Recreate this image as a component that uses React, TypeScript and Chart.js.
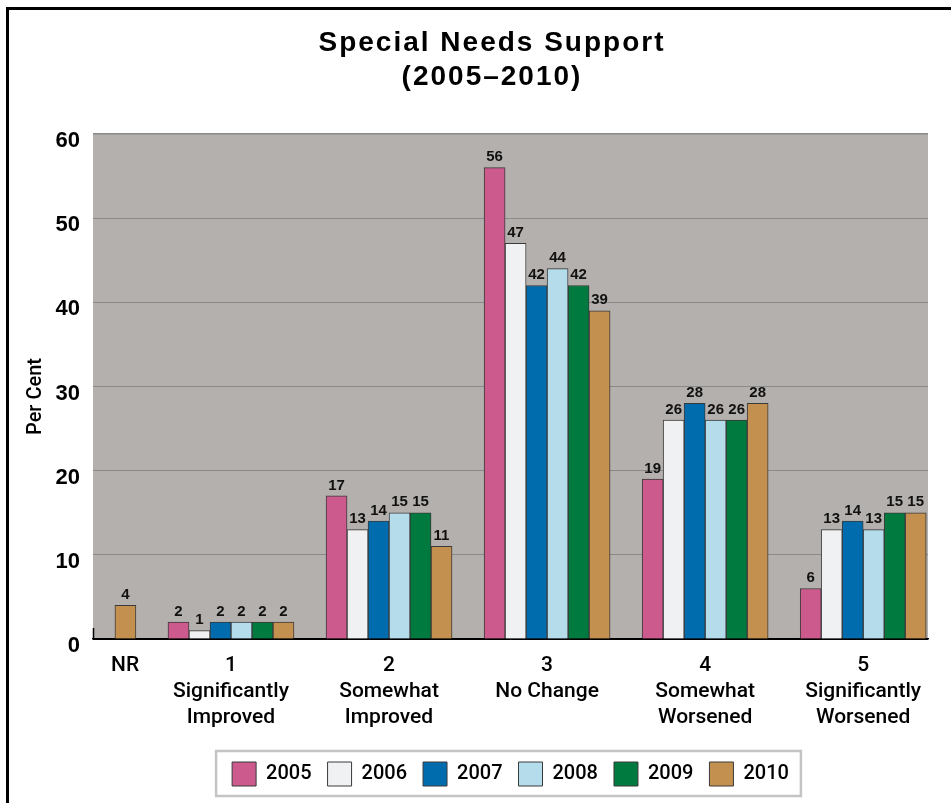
import React, { useEffect, useRef } from 'react';
import { Chart, registerables } from 'chart.js';

Chart.register(...registerables);

// ---- data ----
const categoryLabels: (string | string[])[] = [
  'NR',
  ['1', 'Significantly', 'Improved'],
  ['2', 'Somewhat', 'Improved'],
  ['3', 'No Change'],
  ['4', 'Somewhat', 'Worsened'],
  ['5', 'Significantly', 'Worsened'],
];
const years = ['2005', '2006', '2007', '2008', '2009', '2010'];
const values2005 = [null, 2, 17, 56, 19, 6];
const values2006 = [null, 1, 13, 47, 26, 13];
const values2007 = [null, 2, 14, 42, 28, 14];
const values2008 = [null, 2, 15, 44, 26, 13];
const values2009 = [null, 2, 15, 42, 26, 15];
const values2010 = [4, 2, 11, 39, 28, 15];
const yTickValues = [0, 10, 20, 30, 40, 50, 60];
const titleLines = ['Special Needs Support', '(2005\u20132010)'];
const yAxisTitle = 'Per Cent';

const seriesValues = [values2005, values2006, values2007, values2008, values2009, values2010];
const seriesColors = ['#cd5a8d', '#f0f1f3', '#006cae', '#b5dcea', '#007a3e', '#c4904f'];

// ---- styling ----
const NARROW = 'Roboto, "DejaVu Sans Condensed", "Liberation Sans", Arial, sans-serif';
const SANS = '"Liberation Sans", Arial, Helvetica, sans-serif';
const NR_LABEL_SHIFT = 0.33;

const plotBackground = {
  id: 'plotBackground',
  beforeDraw(chart: any) {
    const { ctx, chartArea } = chart;
    ctx.save();
    ctx.fillStyle = '#b4b0ad';
    ctx.fillRect(chartArea.left, chartArea.top, chartArea.right - chartArea.left, chartArea.bottom - chartArea.top);
    ctx.restore();
  },
  afterDraw(chart: any) {
    const { ctx, chartArea } = chart;
    ctx.save();
    // short dark stub at the foot of the value axis
    ctx.strokeStyle = '#000';
    ctx.lineWidth = 1.5;
    ctx.beginPath();
    ctx.moveTo(chartArea.left + 0.5, chartArea.bottom - 11);
    ctx.lineTo(chartArea.left + 0.5, chartArea.bottom);
    ctx.stroke();
    // y-axis title
    ctx.fillStyle = '#000';
    ctx.font = `500 20px ${NARROW}`;
    ctx.textAlign = 'center';
    ctx.textBaseline = 'middle';
    ctx.translate(36, (chartArea.top + chartArea.bottom) / 2 + 10);
    ctx.rotate(-Math.PI / 2);
    ctx.fillText(yAxisTitle, 0, 0);
    ctx.restore();
  },
};

const valueLabels = {
  id: 'valueLabels',
  afterDatasetsDraw(chart: any) {
    const ctx = chart.ctx;
    ctx.save();
    ctx.font = `bold 15px ${SANS}`;
    ctx.fillStyle = '#111';
    ctx.textAlign = 'center';
    ctx.textBaseline = 'bottom';
    chart.data.datasets.forEach((ds: any, i: number) => {
      const meta = chart.getDatasetMeta(i);
      meta.data.forEach((el: any, j: number) => {
        const v = ds.data[j].y;
        if (v === null || v === undefined) return;
        ctx.fillText(String(v), el.x, el.y - 3);
      });
    });
    ctx.restore();
  },
};

const legendFrame = {
  id: 'legendFrame',
  afterDraw(chart: any) {
    const boxes = chart.legend && chart.legend.legendHitBoxes;
    if (!boxes || !boxes.length) return;
    const first = boxes[0];
    const last = boxes[boxes.length - 1];
    const left = first.left - 16;
    const right = last.left + last.width + 12;
    const top = first.top - 11;
    const bottom = first.top + first.height + 10;
    const ctx = chart.ctx;
    ctx.save();
    ctx.strokeStyle = '#c4c4c4';
    ctx.lineWidth = 2.5;
    ctx.strokeRect(left, top, right - left, bottom - top);
    ctx.restore();
  },
};

export default function App() {
  const canvasRef = useRef<HTMLCanvasElement | null>(null);

  useEffect(() => {
    const canvas = canvasRef.current;
    if (!canvas) return;
    const chart = new Chart(canvas, {
      type: 'bar',
      data: {
        datasets: years.map((label, i) => ({
          label,
          data: seriesValues[i].map((v, idx) => ({ x: idx, y: v })),
          backgroundColor: seriesColors[i],
          borderColor: '#3a3a3a',
          borderWidth: 1,
          barThickness: 21,
        })),
      } as any,
      options: {
        animation: false,
        responsive: false,
        maintainAspectRatio: false,
        layout: { padding: { top: 134, right: 23, left: 0, bottom: 7 } },
        scales: {
          x: {
            type: 'linear',
            min: 0.127,
            max: 5.41,
            offset: false,
            grid: { display: false },
            border: { display: true, color: '#000', width: 1.5 },
            afterBuildTicks: (scale: any) => {
              scale.ticks = categoryLabels.map((_, i) => ({ value: i === 0 ? NR_LABEL_SHIFT : i }));
            },
            afterFit: (scale: any) => {
              scale.height = 107;
            },
            ticks: {
              autoSkip: false,
              maxRotation: 0,
              minRotation: 0,
              padding: 6,
              color: '#000',
              font: { family: NARROW, size: 21, weight: 500, lineHeight: 1.24 },
              callback: (_v: any, i: number) => categoryLabels[i],
            },
          },
          y: {
            min: 0,
            max: 60,
            afterBuildTicks: (scale: any) => {
              scale.ticks = yTickValues.map((v) => ({ value: v }));
            },
            afterFit: (scale: any) => {
              scale.width = 93;
            },
            grid: {
              drawTicks: false,
              color: (ctx: any) => (ctx.tick && ctx.tick.value === 0 ? '#000' : '#8a8a8a'),
              lineWidth: (ctx: any) => (ctx.tick && ctx.tick.value === 60 ? 1.5 : 1),
            },
            border: { display: false },
            ticks: {
              padding: 13,
              labelOffset: 7,
              color: '#000',
              font: { family: SANS, size: 22, weight: 'bold' },
            },
            title: { display: false },
          },
        },
        plugins: {
          legend: {
            position: 'bottom',
            fullSize: false,
            align: 'center',
            labels: {
              boxWidth: 24,
              boxHeight: 24,
              padding: 16,
              color: '#000',
              font: { family: NARROW, size: 20, weight: 500 },
            },
          },
          tooltip: { enabled: false },
          title: { display: false },
        },
      } as any,
      plugins: [plotBackground, valueLabels, legendFrame],
    });
    return () => chart.destroy();
  }, []);

  return (
    <div style={{ position: 'fixed', left: 0, top: 0, width: 951, height: 803, background: '#fff', overflow: 'hidden' }}>
      <div
        style={{
          position: 'absolute',
          left: 6,
          top: 7,
          width: 2000,
          height: 2000,
          borderLeft: '3px solid #000',
          borderTop: '3px solid #000',
        }}
      />
      <canvas ref={canvasRef} width={951} height={803} style={{ position: 'absolute', left: 0, top: 0, width: 951, height: 803 }} />
      <div
        style={{
          position: 'absolute',
          left: 0,
          top: 25,
          width: 984,
          textAlign: 'center',
          fontFamily: SANS,
          fontWeight: 'bold',
          fontSize: 28,
          lineHeight: '34px',
          letterSpacing: 2,
          color: '#000',
        }}
      >
        {titleLines.map((t) => (
          <div key={t}>{t}</div>
        ))}
      </div>
    </div>
  );
}
